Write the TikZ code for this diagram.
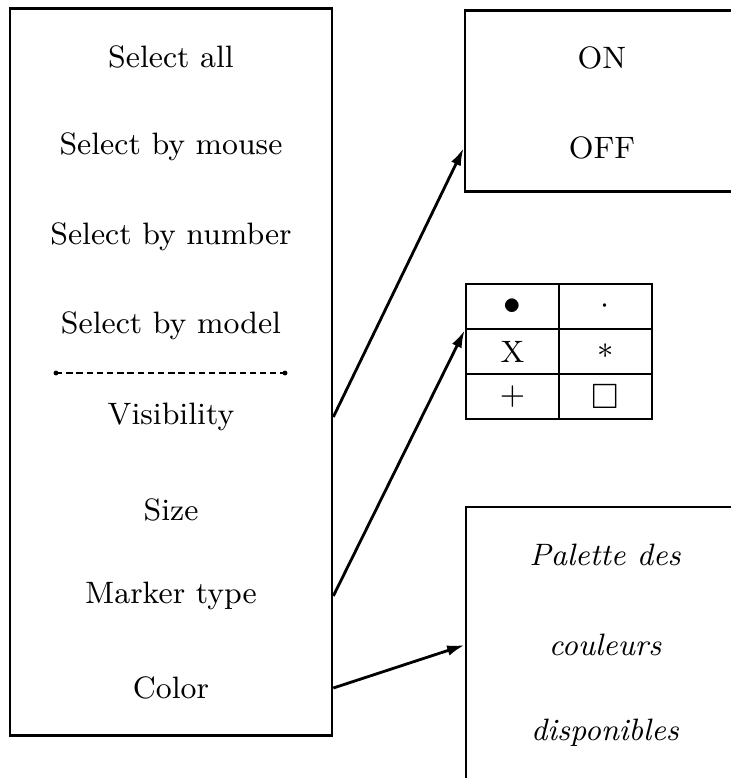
\documentclass[tikz,border=0pt]{standalone}
\usepackage{amssymb}
\usepackage{tikz}
\usetikzlibrary{arrows.meta,matrix}

\tikzset{
    menubox/.style={draw, line width=0.7pt, inner sep=0pt},
    cell/.style={draw, line width=0.7pt, minimum width=0.93cm, minimum height=0.45cm,
        inner sep=0pt, anchor=center},
    arr/.style={line width=0.8pt, -{Latex[length=5pt,width=3pt]}}
}

\begin{document}
\begin{tikzpicture}[x=0.01cm, y=-0.01cm, font=\fontsize{8.8}{10}\selectfont]
        \useasboundingbox (0,0) rectangle (731,778);

        % main menu
        \node[menubox, minimum width=3.22cm, minimum height=7.27cm] (menu) at (171,372) {};
        \node (sall)   at (171,57)  {Select all};
        \node (smouse) at (171,147) {Select by mouse};
        \node (snum)   at (171,237) {Select by number};
        \node (smodel) at (171,326) {Select by model};
        \draw [line width=0.6pt, dash pattern=on 1.8pt off 1.1pt] (56,373) -- (285,373);
        \fill (56,373) circle (0.7pt) (285,373) circle (0.7pt);
        \node (vis)    at (171,417) {Visibility};
        \node (size)   at (171,510) {Size};
        \node (mtype)  at (171,596) {Marker type};
        \node (color)  at (171,688) {Color};

        % visibility
        \node[menubox, minimum width=2.8cm, minimum height=1.81cm] (onoff) at (605,101) {};
        \node (on)  at (602,58)  {ON};
        \node (off) at (602,148) {OFF};

        % marker types
        \matrix (markers) [matrix of nodes, nodes={cell}, anchor=north west, inner sep=0pt,
            column sep=-0.7pt, row sep=-0.7pt] at (464,282) {
            {\fontsize{10}{12}\selectfont$\bullet$} & $\cdot$ \\
            X & $\ast$ \\
            $+$ & {\fontsize{10}{12}\selectfont$\square$} \\
        };

        % colours
        \node[menubox, minimum width=2.8cm, minimum height=2.9cm] (palette) at (606,652) {};
        \node (pal)  at (605,555) {\itshape Palette des};
        \node (coul) at (605,645) {\itshape couleurs};
        \node (disp) at (605,733) {\itshape disponibles};

        \draw [arr] (menu.east |- vis) -- (onoff.west |- off);
        \draw [arr] (menu.east |- mtype) -- (markers-1-1.south west);
        \draw [arr] (menu.east |- color) -- (palette.west |- coul);
    \end{tikzpicture}
\end{document}
